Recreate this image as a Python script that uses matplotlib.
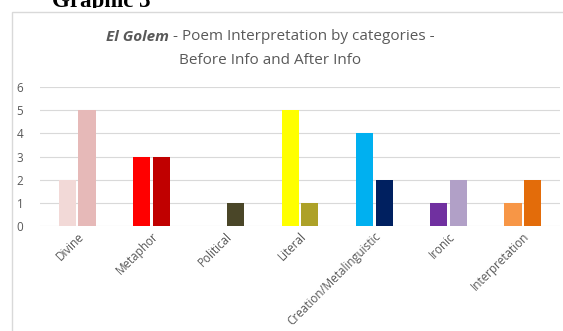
import matplotlib.pyplot as plt
import numpy as np
from matplotlib.patches import Rectangle
from matplotlib.transforms import Bbox, TransformedBbox

categories = ["Divine", "Metaphor", "Political", "Literal",
              "Creation/Metalinguistic", "Ironic", "Interpretation"]
before_info = [2, 3, 0, 5, 4, 1, 1]
after_info = [5, 3, 1, 1, 2, 2, 2]
before_colors = ["#F2D9D7", "#FF0000", "#4A4628", "#FFFF00",
                 "#00B0F0", "#7030A0", "#F79646"]
after_colors = ["#E6B9B8", "#C00000", "#4A4628", "#ADA128",
                "#002060", "#B1A0C7", "#E36C0A"]

TEXT = "#595959"
FONT = "Open Sans"

fig = plt.figure(figsize=(5.63, 3.31), dpi=100)
fig.patch.set_facecolor("white")

# outer chart frame
fig.patches.append(Rectangle((12 / 563, -0.05), 1.0, 1 - 12 / 331 + 0.05,
                             transform=fig.transFigure, fill=False,
                             edgecolor="#D9D9D9", linewidth=1.0))

# page caption above the chart, only its lower part shows
cap = fig.text(52 / 563, 1 - 7 / 331, "Graphic 3", fontsize=16.5,
               fontweight="bold", family="Liberation Serif",
               va="baseline", ha="left")
cap.set_clip_box(TransformedBbox(Bbox([[0, 1 - 8 / 331], [1, 1]]),
                                 fig.transFigure))
cap.set_clip_on(True)

# title: bold italic "El Golem" followed by regular text, centred as one line
renderer = fig.canvas.get_renderer()
tsize = 11
cx = 270 / 563
y1 = 1 - 37 / 331
t_a = fig.text(0, y1, "El Golem", fontsize=tsize, color=TEXT, family=FONT,
               fontweight="bold", fontstyle="italic", va="center")
t_b = fig.text(0, y1, " - Poem Interpretation by categories -", fontsize=tsize,
               color=TEXT, family=FONT, va="center")
wa = t_a.get_window_extent(renderer).width / fig.bbox.width
wb = t_b.get_window_extent(renderer).width / fig.bbox.width
x0 = cx - (wa + wb) / 2
t_a.set_x(x0)
t_b.set_x(x0 + wa)
fig.text(cx, 1 - 60 / 331, "Before Info and After Info",
         fontsize=tsize, color=TEXT, ha="center", va="center", family=FONT)

ax = fig.add_axes([40 / 563, 1 - 226 / 331, 520 / 563, 139 / 331])
x = np.arange(len(categories))
w = 0.23
gap = 0.035
ax.bar(x - (w + gap) / 2, before_info, w, color=before_colors, zorder=3)
ax.bar(x + (w + gap) / 2, after_info, w, color=after_colors, zorder=3)

ax.set_xlim(-0.5, len(categories) - 0.5)
ax.set_ylim(0, 6)
ax.set_yticks(range(7))
ax.yaxis.grid(True, color="#D9D9D9", linewidth=0.8, zorder=0)
for s in ax.spines.values():
    s.set_visible(False)
ax.tick_params(axis="both", length=0, colors=TEXT, labelsize=8.4)
ax.tick_params(axis="y", pad=12)
ax.tick_params(axis="x", pad=3)
ax.set_xticks(x)
ax.set_xticklabels(categories, rotation=45, ha="right",
                   rotation_mode="anchor", family=FONT)
for lab in ax.get_yticklabels():
    lab.set_family(FONT)

fig.savefig("out.png", dpi=100)
